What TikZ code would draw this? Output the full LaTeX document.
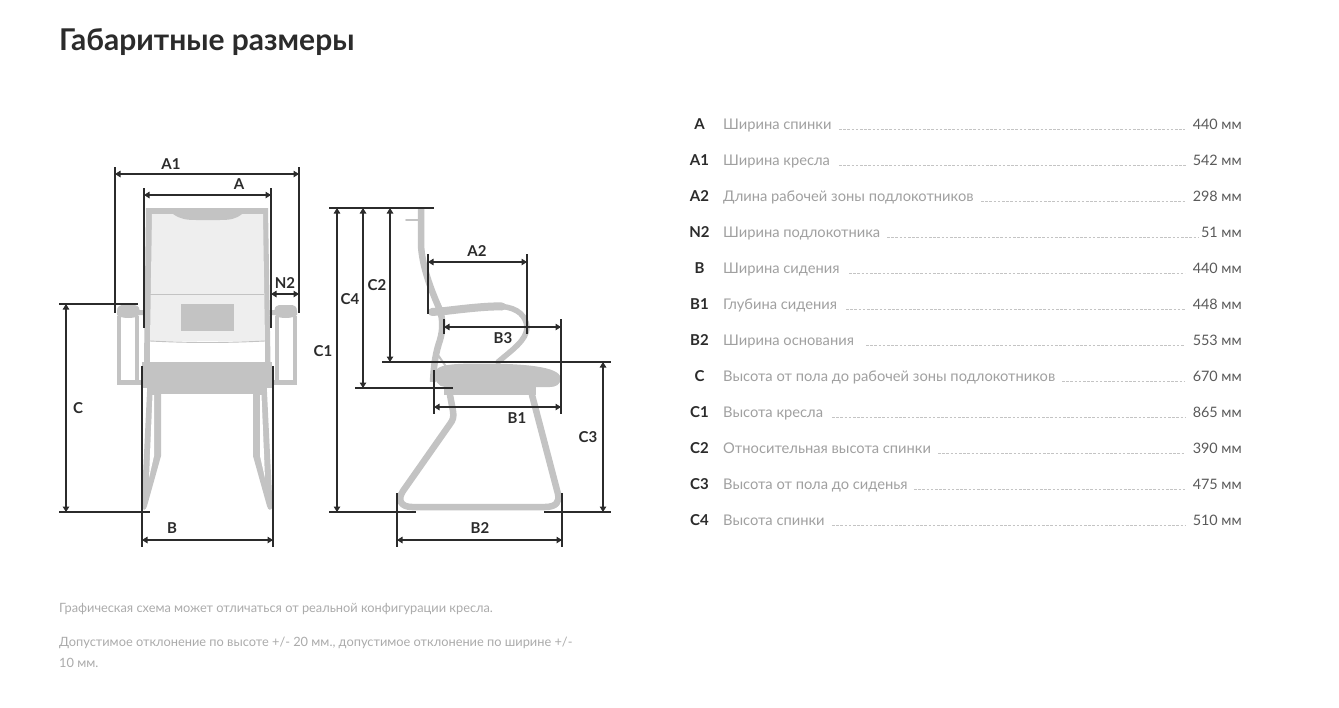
\documentclass[tikz,border=0pt]{standalone}
\usepackage{fontspec}
\setmainfont{Lato}
\usetikzlibrary{arrows.meta}
\definecolor{ink}{HTML}{2B2B2B}
\definecolor{chair}{HTML}{C3C3C3}
\definecolor{panel}{HTML}{EEEEEE}
\definecolor{rowtext}{HTML}{A0A0A0}
\definecolor{rowdash}{HTML}{C4C4C4}
\definecolor{valtext}{HTML}{5A5A5A}
\definecolor{foot}{HTML}{ABABAB}
\tikzset{
  ext/.style={draw=ink,line width=1.1pt},
  dimline/.style={draw=ink,line width=1.1pt,{Triangle[length=5.5pt,width=6.5pt]}-{Triangle[length=5.5pt,width=6.5pt]}},
  dimlabel/.style={font=\fontsize{15}{16}\selectfont\bfseries,text=ink,inner sep=0pt,anchor=center},
  steel/.style={draw=chair,line join=round,line cap=round},
  keytext/.style={font=\fontsize{15}{16}\selectfont\bfseries,text=ink,inner sep=0pt,anchor=base},
  rowlabel/.style={font=\fontsize{14.7}{16}\selectfont,text=rowtext,inner sep=0pt,anchor=base west},
  rowvalue/.style={font=\fontsize{14.4}{16}\selectfont,text=valtext,inner sep=0pt,anchor=base east},
  leader/.style={draw=rowdash,line width=0.7pt,dash pattern=on 2.6pt off 1.6pt},
  footnote/.style={font=\fontsize{12.8}{14}\selectfont,text=foot,inner sep=0pt,anchor=base west},
}
\begin{document}
\begin{tikzpicture}[x=1pt,y=-1pt]
\useasboundingbox (0,0) rectangle (1339,707);
\fill[white] (0,0) rectangle (1339,707);
\node[font=\fontsize{30}{32}\selectfont\bfseries,text=ink,inner sep=0pt,anchor=base west] (title) at (59,50) {Габаритные размеры};

%% ---------- front view of the chair
\fill[chair] (146,208) -- (268,208) -- (270.5,362) -- (144,362) -- cycle;
\fill[white] (150,341) -- (265,341) -- (265,362) -- (150,362) -- cycle;
\fill[panel] (152,214) -- (263,214) -- (265,341) -- (150,341) -- cycle;
\fill[chair] (173,214) .. controls (180,219) and (186,220) .. (196,220) -- (220,220) .. controls (230,220) and (236,219) .. (242,214) -- cycle;
\draw[chair,line width=0.7pt] (150,294) -- (264,294);
\draw[chair,line width=0.9pt] (150,341) .. controls (190,343) and (225,343) .. (265,341);
\fill[chair] (181,304) rectangle (234,331);
\foreach \m/\sx in {0/1,414/-1}{
  \begin{scope}[shift={(\m,0)},xscale=\sx]
    \draw[chair,line width=4pt] (119,316) -- (119,382.5);
    \draw[chair,line width=4pt] (137,316) -- (137,382.5);
    \draw[chair,line width=5pt] (117,382.5) -- (143,382.5);
    \fill[chair] (117,311) .. controls (117,306) and (120,305) .. (124,305) -- (132,305) .. controls (137,305) and (139,306) .. (139.5,310) -- (146,310) -- (146,315) -- (139,315) .. controls (136,319) and (121,319) .. (117,315) -- cycle;
    \fill[chair] (147,392) -- (161,392) -- (161,456) -- (147,506) .. controls (146,511) and (142,511) .. (141.5,506) -- cycle;
    \fill[white] (152.5,395) -- (154,395) -- (154,456) -- (149,478) -- cycle;
  \end{scope}
}
\fill[chair] (142,362) rectangle (272,388);
\fill[chair] (147,388) rectangle (267,394);

%% ---------- side view of the chair
\draw[steel,line width=1.8pt] (406,220) -- (418,220);
\draw[steel,line width=6.5pt,line cap=butt] (421,208) -- (421,245) .. controls (422,265) and (430,288) .. (440,310) .. controls (443,320) and (443,330) .. (440,340) .. controls (436,352) and (434,362) .. (433,382);
\draw[steel,line width=2pt] (438,355) -- (447,368);
\draw[steel,line width=8pt] (432,312) -- (445,311) .. controls (470,308) and (490,306) .. (502,306.5);
\draw[steel,line width=5.5pt] (502,306.5) .. controls (518,308) and (526,316) .. (527,327) .. controls (527,340) and (512,350) .. (498,362);
\fill[chair] (435,372) .. controls (437,365) and (450,363.5) .. (480,363.5) .. controls (520,363.5) and (560,366) .. (560.5,378) .. controls (561,385) and (555,387) .. (550,387) -- (445,387) .. controls (438,387) and (434,380) .. (435,372) -- cycle;
\fill[chair] (444,387) rectangle (536,395);
\draw[steel,line width=6.5pt] (450,395) -- (453,411) .. controls (454,417) and (453,420) .. (450,424) -- (403,491) .. controls (397,500) and (401,507) .. (412,507) -- (545,507) .. controls (556,507) and (560,502) .. (558,494) -- (532,395);

%% ---------- dimension geometry (front)
\coordinate (a1t) at (115,167); \coordinate (a1b) at (115,313);
\coordinate (a1rt) at (299,167); \coordinate (a1rb) at (299,313);
\coordinate (a1l) at (115,174); \coordinate (a1r) at (299,174);
\draw[ext] (a1t) -- (a1b); \draw[ext] (a1rt) -- (a1rb);
\draw[dimline] (a1l) -- (a1r);
\coordinate (at) at (144,188); \coordinate (ab) at (144,328);
\coordinate (art) at (271,188); \coordinate (arb) at (271,328);
\coordinate (al) at (144,195); \coordinate (ar) at (271,195);
\draw[ext] (at) -- (ab); \draw[ext] (art) -- (arb);
\draw[dimline] (al) -- (ar);
\coordinate (n2l) at (271,294); \coordinate (n2r) at (299,294);
\draw[dimline] (n2l) -- (n2r);
\coordinate (ctl) at (59,304); \coordinate (ctr) at (138,304);
\coordinate (cbl) at (59,512); \coordinate (cbr) at (150,512);
\coordinate (ca) at (66,304); \coordinate (cb) at (66,512);
\draw[ext] (ctl) -- (ctr); \draw[ext] (cbl) -- (cbr);
\draw[dimline] (ca) -- (cb);
\coordinate (bt) at (142,366); \coordinate (bb) at (142,547);
\coordinate (brt) at (273,366); \coordinate (brb) at (273,547);
\coordinate (bl) at (142,540); \coordinate (br) at (273,540);
\draw[ext] (bt) -- (bb); \draw[ext] (brt) -- (brb);
\draw[dimline] (bl) -- (br);

%% ---------- dimension geometry (side)
\coordinate (stl) at (329,208); \coordinate (str) at (434,208);
\draw[ext] (stl) -- (str);
\coordinate (sbl) at (329,512); \coordinate (sbr) at (416,512);
\draw[ext] (sbl) -- (sbr);
\coordinate (sb2l) at (544,512); \coordinate (sb2r) at (611,512);
\draw[ext] (sb2l) -- (sb2r);
\coordinate (c4l) at (355,388); \coordinate (c4r) at (453,388);
\draw[ext] (c4l) -- (c4r);
\coordinate (c2l) at (382,362); \coordinate (c2r) at (611,362);
\draw[ext] (c2l) -- (c2r);
\coordinate (c1t) at (337,208); \coordinate (c1b) at (337,512);
\draw[dimline] (c1t) -- (c1b);
\coordinate (c4t) at (363,208); \coordinate (c4b) at (363,388);
\draw[dimline] (c4t) -- (c4b);
\coordinate (c2t) at (390,208); \coordinate (c2b) at (390,362);
\draw[dimline] (c2t) -- (c2b);
\coordinate (c3t) at (603,362); \coordinate (c3b) at (603,512);
\draw[dimline] (c3t) -- (c3b);
\coordinate (a2lt) at (428,254); \coordinate (a2lb) at (428,314);
\coordinate (a2rt) at (527,254); \coordinate (a2rb) at (527,334);
\coordinate (a2l) at (428,262); \coordinate (a2r) at (527,262);
\draw[ext] (a2lt) -- (a2lb); \draw[ext] (a2rt) -- (a2rb);
\draw[dimline] (a2l) -- (a2r);
\coordinate (b3lt) at (444,319); \coordinate (b3lb) at (444,334);
\coordinate (b3rt) at (561,319); \coordinate (b3rb) at (561,414);
\coordinate (b3l) at (444,327); \coordinate (b3r) at (561,327);
\draw[ext] (b3lt) -- (b3lb); \draw[ext] (b3rt) -- (b3rb);
\draw[dimline] (b3l) -- (b3r);
\coordinate (b1lt) at (434,370); \coordinate (b1lb) at (434,414);
\coordinate (b1l) at (434,407); \coordinate (b1r) at (561,407);
\draw[ext] (b1lt) -- (b1lb);
\draw[dimline] (b1l) -- (b1r);
\coordinate (b2lt) at (397,493); \coordinate (b2lb) at (397,547);
\coordinate (b2rt) at (562,493); \coordinate (b2rb) at (562,547);
\coordinate (b2l) at (397,540); \coordinate (b2r) at (562,540);
\draw[ext] (b2lt) -- (b2lb); \draw[ext] (b2rt) -- (b2rb);
\draw[dimline] (b2l) -- (b2r);

%% ---------- dimension labels
\node[dimlabel] (lA1) at (171,164) {A1};
\node[dimlabel] (lA) at (239,184) {A};
\node[dimlabel] (lN2) at (285,283) {N2};
\node[dimlabel] (lC) at (78,408) {C};
\node[dimlabel] (lB) at (172,528) {B};
\node[dimlabel] (lC1) at (323,351) {C1};
\node[dimlabel] (lC4) at (350,299) {C4};
\node[dimlabel] (lC2) at (377,285) {C2};
\node[dimlabel] (lC3) at (588,437) {C3};
\node[dimlabel] (lA2) at (477,251) {A2};
\node[dimlabel] (lB3) at (503,338) {B3};
\node[dimlabel] (lB1) at (517,418) {B1};
\node[dimlabel] (lB2) at (480,528) {B2};

%% ---------- table
\foreach \i/\k/\t/\s/\e/\v in {
  0/A/Ширина спинки/839/1185/440 мм,
  1/A1/Ширина кресла/839/1187/542 мм,
  2/A2/Длина рабочей зоны подлокотников/981/1186/298 мм,
  3/N2/Ширина подлокотника/887/1198/51 мм,
  4/B/Ширина сидения/849/1185/440 мм,
  5/B1/Глубина сидения/846/1185/448 мм,
  6/B2/Ширина основания/866/1185/553 мм,
  7/C/Высота от пола до рабочей зоны подлокотников/1062/1185/670 мм,
  8/C1/Высота кресла/832/1185/865 мм,
  9/C2/Относительная высота спинки/938/1185/390 мм,
  10/C3/Высота от пола до сиденья/914/1185/475 мм,
  11/C4/Высота спинки/832/1185/510 мм}{
  \pgfmathsetmacro{\yy}{129+36*\i}
  \node[keytext] (k\i) at (699.5,\yy) {\k};
  \node[rowlabel] (t\i) at (723,\yy) {\t};
  \node[rowvalue] (v\i) at (1242,\yy) {\v};
  \coordinate (ds\i) at (\s,\yy);
  \coordinate (de\i) at (\e,\yy);
  \draw[leader] (ds\i) -- (de\i);
}

%% ---------- foot notes
\node[footnote] (f1) at (59,612) {Графическая схема может отличаться от реальной конфигурации кресла.};
\node[footnote] (f2) at (59,646) {Допустимое отклонение по высоте +/- 20 мм., допустимое отклонение по ширине +/-};
\node[footnote] (f3) at (59,667) {10 мм.};
\end{tikzpicture}
\end{document}
